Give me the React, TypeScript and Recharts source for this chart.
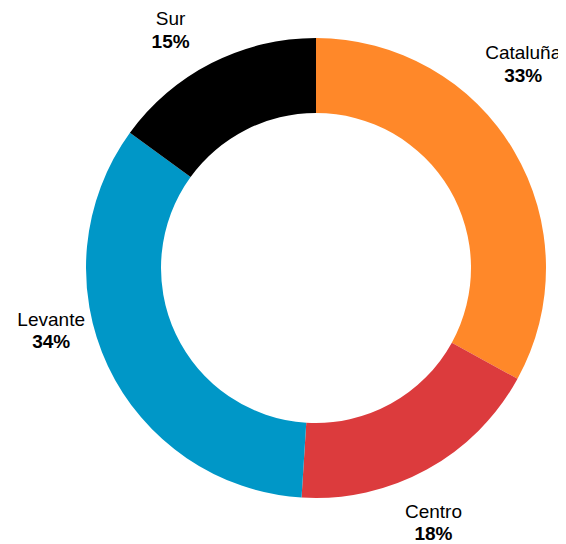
import React from "react";
import { PieChart, Pie, Cell } from "recharts";

const regions = ["Cataluña", "Centro", "Levante", "Sur"];
const shares = [33, 18, 34, 15];
const colors = ["#FF8829", "#DC3B3D", "#0097C7", "#000000"];

const data = regions.map((name, i) => ({ name, value: shares[i] }));

// label placement tweaks (angle offset in degrees, radius in px)
const labelLayout = [
  { dAngle: 14, r: 291 },
  { dAngle: -4, r: 280 },
  { dAngle: -12, r: 272 },
  { dAngle: 4.4, r: 279 },
];

const RAD = Math.PI / 180;

const renderLabel = (props: any) => {
  const { cx, cy, midAngle, index, name, value } = props;
  const lay = labelLayout[index];
  const a = (midAngle + lay.dAngle) * RAD;
  const x = cx + lay.r * Math.cos(a);
  const y = cy - lay.r * Math.sin(a);
  return (
    <text
      x={x}
      y={y}
      textAnchor="middle"
      fontFamily="'Liberation Sans', Arial, sans-serif"
      fontSize={19}
      fill="#000"
    >
      <tspan x={x} y={y - 11} dominantBaseline="central">
        {name}
      </tspan>
      <tspan x={x} y={y + 11.5} dominantBaseline="central" fontWeight="bold">
        {`${value}%`}
      </tspan>
    </text>
  );
};

export default function App() {
  return (
    <PieChart width={558} height={536} margin={{ top: 0, right: 0, bottom: 0, left: 0 }}>
      <Pie
        data={data}
        dataKey="value"
        nameKey="name"
        cx={308}
        cy={260}
        innerRadius={155}
        outerRadius={230}
        startAngle={90}
        endAngle={-270}
        stroke="none"
        label={renderLabel}
        labelLine={false}
        isAnimationActive={false}
      >
        {data.map((d, i) => (
          <Cell key={d.name} fill={colors[i]} />
        ))}
      </Pie>
    </PieChart>
  );
}
